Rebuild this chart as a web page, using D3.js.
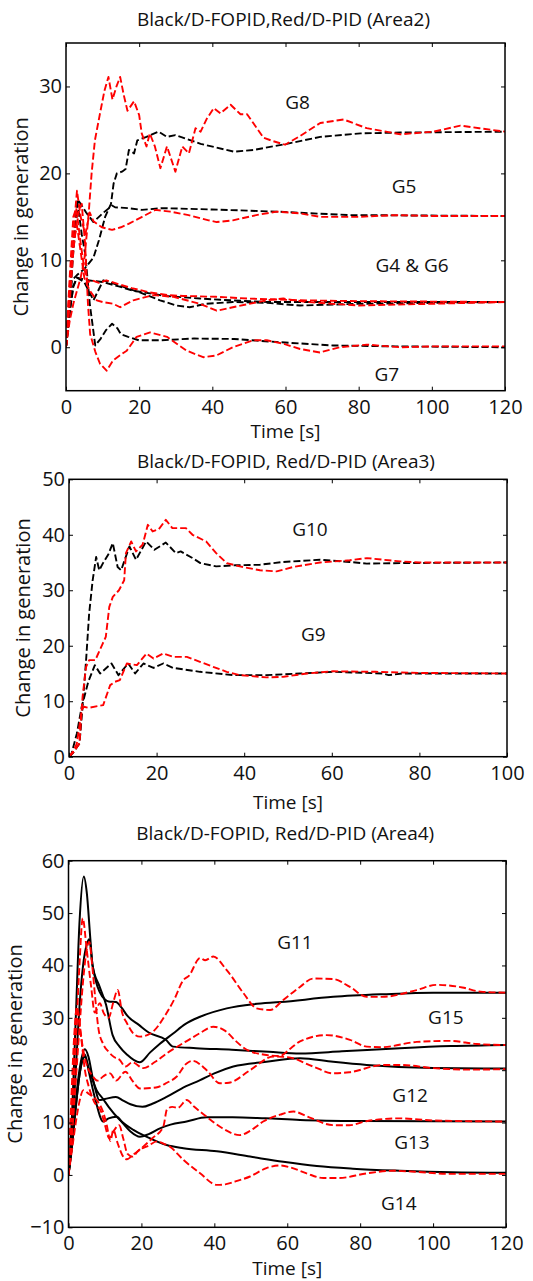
<!DOCTYPE html>
<html><head><meta charset="utf-8">
<script src="https://cdn.jsdelivr.net/npm/d3@7"></script>
<style>html,body{margin:0;padding:0;background:#fff;} svg{display:block;}</style>
</head><body>
<svg id="chart" width="533" height="1281"></svg>
<script>
// ---------- DATA (time [s], change in generation) ----------
// Panel 1 (Area2)
const p1Title = "Black/D-FOPID,Red/D-PID (Area2)";
const p1XTicks = [0, 20, 40, 60, 80, 100, 120];
const p1YTicks = [0, 10, 20, 30];
const a2_G8_black = [[0,0],[1,4],[1.6,7.7],[3,8.3],[5,9],[7.5,10.3],[9,12.3],[10.7,15],[12.3,16.5],[13,18.8],[13.9,20],[15.3,20.2],[16.3,20.5],[17.2,22.7],[18.6,22.3],[19.5,23.8],[22,24.2],[25.3,24.8],[27.6,24.2],[29.9,24.4],[36.8,23.4],[45.9,22.5],[51.3,22.7],[60.4,23.4],[69.5,24.2],[80.5,24.6],[91.4,24.7],[120,24.8]];
const a2_G8_red = [[0,0],[1,3],[2,5],[3,6.5],[4,8],[5,10],[6.2,15.4],[7,20],[7.9,23.8],[9.3,26.9],[10.5,29.5],[11.6,31.1],[12.7,28.5],[13.8,30],[14.8,31.1],[15.8,29],[16.8,27.2],[18.6,28.3],[20,26.7],[20.7,24.6],[22,23.1],[22.9,24.6],[24.3,23.1],[25.8,20.6],[27.6,23.1],[29.9,20.2],[31.8,23.1],[33.6,22.3],[35.4,25.2],[36.8,24.8],[38.5,26.3],[40.4,27.5],[42.2,26.9],[45,27.9],[47.7,26.8],[49.5,26.8],[54,24.1],[56.7,23.7],[59.9,23.3],[64,24.3],[69.5,25.8],[75.9,26.2],[82.2,25.2],[91.4,24.5],[100.5,24.8],[107.8,25.5],[113,25.2],[120,24.8]];
const a2_G5_black = [[0,0],[1,6],[2,12],[3.2,17],[4,16.5],[5.5,15.5],[7.5,14.4],[9,15],[10,15.4],[12.6,16.3],[13.4,16.1],[17.1,16.0],[20.7,15.8],[26.2,16.0],[39.9,15.85],[57.6,15.6],[77.6,15.2],[120,15.1]];
const a2_G5_red = [[0,0],[1,6],[2,13],[3,18],[4,15],[5.3,13],[6.5,15.5],[7.5,14.5],[9.8,13.8],[12.6,13.5],[15,13.8],[17.1,14.2],[20.8,15],[24.4,15.8],[28.5,15.6],[33.5,15.2],[39,14.6],[41.2,14.4],[45.6,14.6],[52,15.2],[57.6,15.6],[64,15.4],[69.4,15.0],[80,15.0],[90,15.2],[100,15.1],[120,15.1]];
const a2_G4_black = [[0,0],[1,4],[2,7],[3,8],[5,7.5],[7.5,5.4],[10.2,7.7],[13.9,7.2],[20.2,6.3],[25.7,5.4],[30.2,4.8],[33.8,4.6],[38.3,5.0],[45.6,5.2],[55,5.1],[64,4.8],[80,5.0],[100,5.1],[120,5.2]];
const a2_G6_black = [[0,0],[1,4],[2,7],[3,8],[6,7.7],[10,7.5],[14.4,7.0],[18.4,6.5],[27.3,5.9],[36.6,5.6],[45,5.4],[55,5.2],[120,5.2]];
const a2_G4_red = [[0,0],[1,7],[2,12],[3,14],[4,11],[5,8],[6.5,6.5],[8.4,5.4],[10,5.2],[12.9,5.0],[14.8,4.6],[18.4,5.4],[23.9,6.0],[29.4,5.8],[36.6,5.0],[41.2,4.2],[45.6,4.6],[54.8,5.4],[59.4,5.6],[66,5.2],[80,4.8],[100,5.0],[120,5.2]];
const a2_G6_red = [[0,0],[1,8],[2,15],[2.8,16],[4,12],[5,9],[6,7.5],[7,7.7],[9,7.4],[11,7.7],[14.8,7.2],[18,6.8],[23,6.3],[28,6.0],[32,5.9],[41,5.8],[50,5.6],[64,5.4],[80,5.3],[120,5.2]];
const a2_G7_black = [[0,0],[1,5],[2,11],[3.2,16.5],[4.3,13],[5.3,10.6],[6.5,5],[8,0.2],[9.5,1],[11,2],[12.6,2.7],[14,2.2],[15,1.5],[17,1.2],[19.9,0.8],[25.7,0.8],[35,1.0],[45.9,0.95],[57.6,0.6],[73,0.2],[90,0.1],[120,0]];
const a2_G7_red = [[0,0],[1,5],[2,11],[3,15],[4.3,16.5],[5.2,12],[6,5],[6.6,1.5],[8,-0.5],[9.3,-1.9],[11.1,-2.7],[12.9,-1.5],[14.5,-1.0],[16.6,-0.4],[19.3,1.2],[23,1.7],[27.6,1.2],[33,-0.4],[37.5,-1.15],[41.1,-0.95],[45.6,0],[51.2,0.8],[54.9,0.8],[59.4,0.4],[64,-0.2],[69.4,-0.6],[74.9,0],[82.2,0.3],[91.3,0],[100,0.1],[120,0.1]];

// Panel 2 (Area3)
const p2Title = "Black/D-FOPID, Red/D-PID (Area3)";
const p2XTicks = [0, 20, 40, 60, 80, 100];
const p2YTicks = [0, 10, 20, 30, 40, 50];
const a3_G10_black = [[0,0],[0.84,0.6],[2.4,2.4],[3.1,9],[3.9,17.4],[4.6,25.8],[5.4,31.8],[6.2,36],[6.9,33.6],[7.7,34.8],[9,36.5],[10,38.5],[11.1,34.2],[11.9,33.6],[13.8,37.9],[15.3,35.5],[17.6,38.8],[19.5,37.3],[22.1,38.6],[24.4,36.7],[25.5,37],[28.2,35.8],[30,34.9],[33.6,34.3],[38,34.5],[43.6,34.6],[48.9,35.1],[57.3,35.5],[64.1,35.1],[68,34.8],[75.6,34.9],[100,35.0]];
const a3_G10_red = [[0,0],[1,0.8],[2.4,2.4],[3.1,10.8],[3.9,16.2],[4.6,17.4],[6,17.4],[7.7,20.4],[8.4,21.6],[9.2,27],[10,28.8],[11.4,30],[12.6,31.8],[13,36.7],[14.2,38.8],[15.3,37],[16.8,38.2],[18,41.8],[19.1,40.6],[20.5,41],[22.1,42.7],[23.6,41.2],[26.7,41.2],[28.2,40],[31.3,38.8],[33.6,36.7],[36,34.9],[39,34.3],[43.6,33.6],[47.4,33.4],[51.2,34.2],[57.3,35.0],[64.1,35.4],[68,35.8],[75.6,35.2],[80,35.0],[100,35.0]];
const a3_G9_black = [[0,0],[0.5,0.3],[1.8,4.2],[2.9,9],[4.4,13.5],[5.9,16.5],[7.1,15.0],[9.7,16.8],[11.3,14.7],[13.5,16.8],[15.1,15],[17,16.8],[19.3,16],[21.5,16.8],[23.8,16],[29.9,15.3],[37.5,14.7],[45.1,14.7],[52.7,15.0],[60.3,15.3],[71.7,15],[73,14.7],[76,15],[100,15.0]];
const a3_G9_red = [[0,0],[1,1],[1.8,2.4],[2.9,8.4],[3.4,9],[4.4,8.8],[7.8,9.3],[9.4,12.9],[10.5,13.5],[11.6,13.8],[13.2,16.8],[15.5,16.5],[17.7,18.6],[19.3,17.7],[21.5,18.6],[23.8,18],[26.9,18],[29.9,17.1],[32.9,16.2],[36,15.3],[39,14.7],[45.1,14.3],[49,14.4],[54.3,15.0],[60.3,15.4],[70,15.3],[80,15.1],[100,15.0]];

// Panel 3 (Area4)
const p3Title = "Black/D-FOPID, Red/D-PID (Area4)";
const p3XTicks = [0, 20, 40, 60, 80, 100, 120];
const p3YTicks = [-10, 0, 10, 20, 30, 40, 50, 60];
const a4_G11_black = [[0,0],[1,12],[2,30],[3,48],[4.2,57],[5,54],[6,45],[6.6,40],[8.5,36],[10.3,32.5],[12.1,26.7],[14,24.5],[16,23],[19.5,21.5],[22.4,23.4],[25,25],[28.7,27],[32,28.8],[36.1,30.2],[43.4,31.8],[50.7,32.6],[58.2,33],[72.6,34.0],[86.3,34.5],[100,34.8],[120,34.8]];
const a4_G15_black = [[0,0],[1,8],[2,20],[3,32],[4,40],[5,44],[5.7,45],[6.6,40],[7.5,37],[8.5,35],[10,33.5],[11,33.1],[13,33],[14.5,32],[16,30.5],[19.4,28.6],[22,27.2],[26.7,25.8],[28.7,24.5],[35,24.2],[44.8,23.9],[55,23.5],[63.5,23.2],[75,23.6],[90.9,24.2],[105,24.6],[120,24.8]];
const a4_G12_black = [[0,0],[1,6],[2,14],[3,20],[4.5,24],[5.5,22.5],[6.5,19],[7.5,16],[8.4,14.3],[10,14.5],[13,14.9],[15,14.2],[17,13.5],[20.3,13.0],[23,13.6],[26.9,14.9],[31,16.5],[36.1,18.1],[40,19.4],[45.2,20.7],[54.3,21.6],[63.5,22.3],[72.6,21.6],[81.8,21.0],[100,20.4],[120,20.3]];
const a4_G13_black = [[0,0],[1,6],[2,13],[3,19],[4.5,23],[5.5,20],[7.5,14],[9.5,10.2],[11,10.8],[13.2,11.1],[15,9.8],[17,8.3],[19.6,7.3],[22,7.8],[25.1,8.9],[28,9.6],[32.4,10.2],[37.9,11.0],[45,11.0],[54,10.8],[63.5,10.5],[80,10.3],[120,10.2]];
const a4_G14_black = [[0,0],[1,6],[2,13],[3,19],[4.5,22.5],[5.5,20.5],[7.7,16.2],[9.5,14.5],[11,13],[14.1,10.5],[17.8,8.6],[21.4,7.3],[26.9,5.7],[31.5,5.1],[40.7,4.5],[49.8,3.5],[58.9,2.5],[68.1,1.7],[78,1.2],[90.9,0.8],[105,0.5],[120,0.4]];
const a4_G11_red = [[0,0],[1,10],[2,25],[3,40],[3.9,49],[5,43],[6.2,36],[7.2,31],[8.6,32.8],[9.6,31],[11,30],[12.3,33],[13.5,35.3],[14.7,31],[16,29],[17.8,27],[19.6,26.4],[22.5,27],[26.9,30.9],[29,33.5],[31.5,37.2],[33,38],[36.1,41.4],[37.5,41.0],[39.7,41.7],[43.4,39.1],[48,34.7],[51.6,31.8],[55.3,31.5],[58.9,33.4],[63.5,35.9],[67.1,37.5],[72.6,37.4],[77.2,35.9],[81.8,34.0],[86,34.0],[95.5,35.3],[101,36.3],[108,35.8],[113,35.0],[120,34.8]];
const a4_G15_red = [[0,0],[1,8],[2,18],[3,28],[4,37],[5,43],[5.7,44.5],[6.5,40],[7.3,34],[8.2,28],[9.5,25],[11,23.5],[12.5,22.5],[14,22],[15.6,20.7],[17.5,21.5],[20.5,20.4],[23.8,21.6],[26.9,23.2],[30.6,24.8],[33,25.8],[36.1,27.1],[39.7,28.3],[43,27.5],[46,25.5],[48.9,23.9],[54.3,22.9],[57.9,22.7],[61,24.2],[63.5,25.5],[70.8,26.7],[77.2,25.8],[81.8,24.5],[86,24.4],[95.5,25.4],[104.6,25.6],[112,25.0],[120,24.8]];
const a4_G12_red = [[0,0],[0.8,15],[1.6,27],[2.3,32],[3,29],[4,24],[5,21],[6.5,19],[8,18],[9.5,18.8],[11.4,19.4],[13,18],[15.6,19.7],[17.5,18],[19.6,16.5],[24,16.7],[27,17.6],[29.7,18.8],[32.4,21.3],[34,21.8],[37.9,20],[41.5,17.5],[44,17.6],[49.8,20],[56.2,22.6],[60,22.5],[67.1,20.7],[72.6,19.4],[77,19.6],[86.3,21.0],[91,21.0],[100,20.4],[110,20.1],[120,20.2]];
const a4_G13_red = [[0,0],[0.8,12],[1.6,24],[2.6,30],[3.5,26],[4.5,20],[5.5,17],[7,14],[9,12],[10,9.5],[11.2,7],[12.5,8.5],[13.9,9.5],[15,7],[16.2,4],[17.5,3.5],[19,4.5],[20.5,5.4],[23,7],[26,9.2],[27,12.5],[28.5,13],[30,12.8],[32.4,14.3],[34.5,13],[37.9,11.1],[42,9],[47,7.6],[50,8.5],[53.4,10.2],[58,11.5],[61.7,12.1],[66,11],[72.6,9.5],[77,9.5],[82,10.3],[90.9,10.8],[100,10.4],[120,10.2]];
const a4_G14_red = [[0,0],[1,5],[2,10],[3,14],[4.1,16.2],[5.5,15.5],[7.7,14.3],[9.5,12],[10.5,9.5],[11.5,6.5],[12.3,8.6],[13.5,6],[15,3.5],[16,3],[18,4],[20,5],[22,5.6],[24.2,6.4],[26,6],[27.8,5.4],[31.5,2.9],[36.1,0.3],[40.7,-1.9],[43,-1.8],[46,-1.2],[49.8,-0.3],[54.3,1.3],[58,1.8],[61,1.4],[65.3,0.3],[69.9,-0.6],[74,-0.6],[81.8,0.3],[89.1,0.8],[95,0.6],[105,0.2],[120,0.2]];

// Curve labels: [text, time, value]
const p1Labels = [["G8", 63.3, 28.0], ["G5", 92.4, 18.3], ["G4 & G6", 94.6, 9.2], ["G7", 87.7, -3.3]];
const p2Labels = [["G10", 55.0, 40.7], ["G9", 55.8, 21.8]];
const p3Labels = [["G11", 62.1, 44.1], ["G15", 103.5, 29.8], ["G12", 93.7, 14.9], ["G13", 94.2, 5.9], ["G14", 90.6, -5.7]];

// ---------- LAYOUT ----------
const FONT = "'Open Sans', sans-serif";
const RED = "#ff0000", BLACK = "#000000";
const panels = [
  { box: {l: 66, r: 505, t: 43, b: 390.7}, xd: [0,120], yd: [-5,35], xt: p1XTicks, yt: p1YTicks, title: p1Title, titleY: 26, xLabY: 438, yLabX: 28,
    curve: d3.curveLinear, labels: p1Labels,
    series: [[a2_G8_black,BLACK,true],[a2_G5_black,BLACK,true],[a2_G4_black,BLACK,true],[a2_G6_black,BLACK,true],[a2_G7_black,BLACK,true],
             [a2_G8_red,RED,true],[a2_G5_red,RED,true],[a2_G4_red,RED,true],[a2_G6_red,RED,true],[a2_G7_red,RED,true]] },
  { box: {l: 69, r: 507, t: 479.3, b: 756.7}, xd: [0,100], yd: [0,50], xt: p2XTicks, yt: p2YTicks, title: p2Title, titleY: 468, xLabY: 809, yLabX: 30,
    curve: d3.curveLinear, labels: p2Labels,
    series: [[a3_G10_black,BLACK,true],[a3_G9_black,BLACK,true],[a3_G10_red,RED,true],[a3_G9_red,RED,true]] },
  { box: {l: 68.5, r: 506, t: 860.7, b: 1227.3}, xd: [0,120], yd: [-10,60], xt: p3XTicks, yt: p3YTicks, title: p3Title, titleY: 840, xLabY: 1275, yLabX: 22,
    curve: d3.curveMonotoneX, labels: p3Labels,
    series: [[a4_G11_black,BLACK,false],[a4_G15_black,BLACK,false],[a4_G12_black,BLACK,false],[a4_G13_black,BLACK,false],[a4_G14_black,BLACK,false],
             [a4_G11_red,RED,true],[a4_G15_red,RED,true],[a4_G12_red,RED,true],[a4_G13_red,RED,true],[a4_G14_red,RED,true]] }
];

const svg = d3.select("#chart");
panels.forEach((p, i) => {
  const x = d3.scaleLinear().domain(p.xd).range([p.box.l, p.box.r]);
  const y = d3.scaleLinear().domain(p.yd).range([p.box.b, p.box.t]);
  const g = svg.append("g");
  const clipId = "clip" + i;
  g.append("clipPath").attr("id", clipId).append("rect")
    .attr("x", p.box.l).attr("y", p.box.t).attr("width", p.box.r - p.box.l).attr("height", p.box.b - p.box.t);

  // curves
  const line = d3.line().x(d => x(d[0])).y(d => y(d[1])).curve(p.curve);
  const cg = g.append("g").attr("clip-path", `url(#${clipId})`);
  p.series.forEach(([data, color, dashed]) => {
    cg.append("path").datum(data).attr("d", line)
      .attr("fill", "none").attr("stroke", color).attr("stroke-width", dashed ? 1.9 : 2)
      .attr("stroke-dasharray", dashed ? "7,3" : null).attr("stroke-linejoin", "round");
  });

  // axes with inward ticks
  const ax = (gen, tr) => g.append("g").attr("transform", tr).call(gen)
      .call(s => s.select(".domain").remove())
      .call(s => s.selectAll(".tick line").attr("stroke", "#000").attr("stroke-width", 1));
  const bx = ax(d3.axisBottom(x).tickValues(p.xt).tickSizeInner(-4).tickSizeOuter(0).tickPadding(9).tickFormat(d3.format("d")), `translate(0,${p.box.b})`);
  const ly = ax(d3.axisLeft(y).tickValues(p.yt).tickSizeInner(-4).tickSizeOuter(0).tickPadding(4).tickFormat(d3.format("d")), `translate(${p.box.l},0)`);
  ax(d3.axisTop(x).tickValues(p.xt).tickSizeInner(-4).tickSizeOuter(0).tickFormat(""), `translate(0,${p.box.t})`);
  ax(d3.axisRight(y).tickValues(p.yt).tickSizeInner(-4).tickSizeOuter(0).tickFormat(""), `translate(${p.box.r},0)`);
  [bx, ly].forEach(s => s.selectAll(".tick text").attr("font-family", FONT).attr("font-size", 20).attr("fill", "#111"));

  // frame
  g.append("rect").attr("x", p.box.l).attr("y", p.box.t).attr("width", p.box.r - p.box.l).attr("height", p.box.b - p.box.t)
    .attr("fill", "none").attr("stroke", "#000").attr("stroke-width", 1.5);

  // title + axis labels
  const cx = (p.box.l + p.box.r) / 2;
  g.append("text").attr("x", cx - 2).attr("y", p.titleY).attr("text-anchor", "middle")
    .attr("font-family", FONT).attr("font-size", 19).attr("fill", "#111").text(p.title);
  g.append("text").attr("x", cx).attr("y", p.xLabY).attr("text-anchor", "middle")
    .attr("font-family", FONT).attr("font-size", 19).attr("fill", "#111").text("Time [s]");
  g.append("text").attr("transform", `translate(${p.yLabX},${(p.box.t + p.box.b) / 2}) rotate(-90)`).attr("text-anchor", "middle")
    .attr("font-family", FONT).attr("font-size", 20).attr("fill", "#111").text("Change in generation");

  // curve labels
  p.labels.forEach(([txt, t, v]) => {
    g.append("text").attr("x", x(t)).attr("y", y(v)).attr("text-anchor", "middle").attr("dominant-baseline", "middle")
      .attr("font-family", FONT).attr("font-size", 19).attr("fill", "#111").text(txt);
  });
});
</script>
</body></html>
